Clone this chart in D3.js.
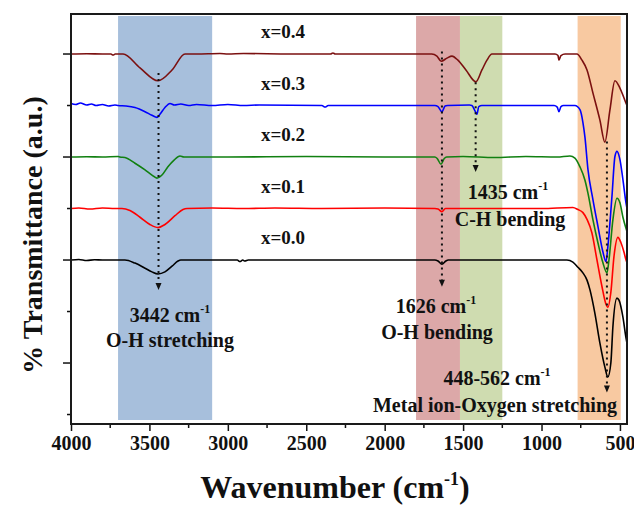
<!DOCTYPE html>
<html>
<head>
<meta charset="utf-8">
<script src="https://cdn.jsdelivr.net/npm/d3@7"></script>
<style>
  body { margin: 0; background: #fff; }
  svg text { font-family: "Liberation Serif", "Times New Roman", serif; font-weight: bold; fill: #111; }
</style>
</head>
<body>
<div id="chart"></div>
<script>
// spectra: [wavenumber, value relative to own baseline]
const x00 = [[4000,0],[3950,0.01],[3900,-0.01],[3850,0.005],[3800,0],[3700,0],[3656,0],[3592,-0.06],[3528,-0.16],[3484,-0.23],[3445,-0.27],[3401,-0.23],[3356,-0.12],[3318,-0.02],[3300,0],[3100,0],[2940,0],[2923,-0.03],[2905,0],[2891,-0.02],[2870,0],[2500,0],[2000,0],[1680,0],[1660,-0.02],[1635,-0.08],[1610,-0.02],[1595,0],[1300,0],[900,0],[838,0],[800,-0.04],[768,-0.14],[736,-0.25],[710,-0.39],[691,-0.58],[660,-1.03],[628,-1.61],[596,-2.08],[577,-2.27],[558,-2.0],[545,-1.30],[519,-0.74],[506,-0.78],[481,-1.11],[462,-1.50],[455,-1.62]];
const x01 = [[4000,0],[3950,0.01],[3880,-0.01],[3800,0.01],[3720,0],[3675,0],[3624,-0.04],[3560,-0.17],[3497,-0.31],[3445,-0.37],[3401,-0.31],[3337,-0.14],[3286,-0.02],[3260,0],[3100,0.01],[2900,0],[2700,0.01],[2400,0],[2000,0.01],[1680,0],[1660,-0.01],[1635,-0.06],[1612,0],[1300,0],[1000,0],[800,0.02],[768,-0.02],[736,-0.08],[710,-0.21],[679,-0.47],[647,-0.99],[615,-1.51],[589,-1.86],[577,-1.92],[558,-1.63],[538,-0.93],[513,-0.56],[494,-0.66],[474,-0.85],[462,-0.99],[455,-1.05]];
const x02 = [[4000,0],[3900,0.005],[3800,0],[3700,0.01],[3688,0],[3656,-0.01],[3592,-0.12],[3528,-0.25],[3484,-0.35],[3452,-0.41],[3420,-0.35],[3382,-0.19],[3343,-0.06],[3305,0.02],[3280,0],[3000,0],[2500,0.01],[2000,0],[1680,0],[1665,-0.03],[1641,-0.14],[1620,-0.03],[1605,0],[1500,0.01],[1300,-0.01],[1100,0.01],[900,0],[819,0.02],[787,-0.02],[755,-0.19],[723,-0.45],[704,-0.70],[672,-1.22],[640,-1.67],[608,-2.06],[583,-2.25],[570,-2.0],[545,-1.22],[519,-0.80],[500,-0.89],[481,-1.17],[462,-1.38],[455,-1.45]];
const x03 = [[4000,0.04],[3970,0.02],[3940,0.05],[3900,0.01],[3870,0.03],[3840,0],[3800,0.02],[3760,-0.01],[3720,0.01],[3700,0],[3650,-0.01],[3592,-0.04],[3528,-0.12],[3484,-0.19],[3452,-0.23],[3433,-0.17],[3401,-0.04],[3369,0.04],[3340,0.01],[3300,0.03],[3250,0],[3200,0.02],[3100,0],[3000,0.02],[2900,0],[2800,0.01],[2400,0],[2380,-0.03],[2360,0],[2000,0],[1680,0],[1660,-0.02],[1635,-0.12],[1615,-0.01],[1600,0],[1460,0.01],[1444,0],[1425,-0.1],[1412,-0.17],[1400,-0.02],[1380,0],[1100,0],[920,0],[900,-0.03],[889,-0.12],[876,-0.02],[860,0],[787,0],[755,-0.08],[736,-0.33],[723,-0.62],[704,-1.24],[672,-1.83],[640,-2.35],[608,-2.85],[589,-3.03],[577,-2.74],[551,-1.77],[532,-0.99],[519,-0.89],[500,-1.05],[481,-1.44],[462,-1.88],[455,-2.0]];
const x04 = [[4000,0],[3900,0.005],[3800,0],[3745,0],[3732,-0.02],[3718,0],[3668,0],[3560,-0.27],[3445,-0.52],[3356,-0.31],[3273,0],[3200,0],[3050,0.01],[3000,0],[2900,0.01],[2600,0],[2345,0],[2330,0.02],[2315,0],[2000,0],[1700,0],[1667,-0.04],[1640,-0.14],[1603,-0.08],[1571,-0.04],[1533,-0.12],[1482,-0.31],[1418,-0.54],[1380,-0.31],[1348,-0.12],[1316,0],[1200,0],[914,0],[895,-0.03],[889,-0.12],[876,-0.03],[850,0],[774,0],[742,-0.12],[710,-0.31],[672,-0.76],[628,-1.28],[596,-1.71],[564,-1.09],[532,-0.52],[500,-0.66],[462,-0.95],[455,-1.0]];

const sampleLabels = ["x=0.0", "x=0.1", "x=0.2", "x=0.3", "x=0.4"];
const sampleOffsets = [0, 1, 2, 3, 4];
const sampleColors = ["#000000", "#ff0000", "#118011", "#0000ff", "#7b1010"];
const spectra = [x00, x01, x02, x03, x04];

// shaded regions [from, to] in cm-1
const bandRanges = [[3700, 3100], [1800, 1520], [1520, 1250], [770, 495]];
const bandColors = ["#a7bfdc", "#dca8a8", "#cfdcb0", "#f8c9a1"];

// annotation arrows: position, top, bottom (a.u.)
const arrowPos = [3442, 1635, 1420, 583];
const arrowTop = [3.63, 4.05, 3.45, 2.30];
const arrowBottom = [-0.58, -0.52, 1.71, -2.57];

const xTicks = [4000, 3500, 3000, 2500, 2000, 1500, 1000, 500];

const width = 634, height = 511;
const margin = { left: 71, right: 7, top: 14, bottom: 87 };

const svg = d3.select("#chart").append("svg")
  .attr("width", width)
  .attr("height", height);

const x = d3.scaleLinear().domain([4000, 455]).range([margin.left, width - margin.right]);
const y = d3.scaleLinear().domain([-3.184, 4.777]).range([height - margin.bottom, margin.top]);

// bands
svg.append("g").selectAll("rect")
  .data(bandRanges)
  .join("rect")
  .attr("x", d => x(d[0]))
  .attr("width", d => x(d[1]) - x(d[0]))
  .attr("y", 16)
  .attr("height", 404)
  .attr("fill", (d, i) => bandColors[i]);

// spectra
const line = d3.line()
  .x(d => x(d[0]))
  .y(d => y(d[1]))
  .curve(d3.curveMonotoneX);

svg.append("g").selectAll("path")
  .data(spectra)
  .join("path")
  .attr("fill", "none")
  .attr("stroke", (d, i) => sampleColors[i])
  .attr("stroke-width", 1.6)
  .attr("d", (d, i) => line(d.map(p => [p[0], p[1] + sampleOffsets[i]])));

// sample labels
svg.append("g").selectAll("text")
  .data(sampleLabels)
  .join("text")
  .attr("x", 283)
  .attr("y", (d, i) => y(sampleOffsets[i]) - 16)
  .attr("text-anchor", "middle")
  .style("font-size", "19px")
  .text(d => d);

// dotted arrows
const arrows = svg.append("g");
arrowPos.forEach((w, i) => {
  arrows.append("line")
    .attr("x1", x(w)).attr("x2", x(w))
    .attr("y1", y(arrowTop[i])).attr("y2", y(arrowBottom[i]) - 5)
    .attr("stroke", "#111")
    .attr("stroke-width", 2)
    .attr("stroke-dasharray", "2,4");
  const ax = x(w), ay = y(arrowBottom[i]);
  arrows.append("path")
    .attr("d", `M${ax - 3},${ay - 7}L${ax + 3},${ay - 7}L${ax},${ay}Z`)
    .attr("fill", "#111");
});

// annotation texts
const notes = [
  { x: 170, y: 322, main: "3442 cm", sup: "-1" },
  { x: 170, y: 347, main: "O-H stretching" },
  { x: 436, y: 313, main: "1626 cm", sup: "-1" },
  { x: 437, y: 339, main: "O-H bending" },
  { x: 508, y: 199, main: "1435 cm", sup: "-1" },
  { x: 510, y: 226, main: "C-H bending" },
  { x: 497, y: 385, main: "448-562 cm", sup: "-1" },
  { x: 495, y: 412, main: "Metal ion-Oxygen stretching" }
];
notes.forEach(n => {
  const t = svg.append("text")
    .attr("x", n.x).attr("y", n.y)
    .attr("text-anchor", "middle")
    .style("font-size", "20px");
  t.append("tspan").text(n.main);
  if (n.sup) {
    t.append("tspan").attr("dy", -9).style("font-size", "12px").text(n.sup);
  }
});

// axes
const xAxis = d3.axisBottom(x).tickValues(xTicks).tickSize(7).tickPadding(5).tickFormat(d3.format("d"));
const gx = svg.append("g")
  .attr("transform", `translate(0,${height - margin.bottom})`)
  .call(xAxis);
gx.select(".domain").remove();
gx.selectAll("line").attr("stroke", "#111").attr("stroke-width", 1.5);
gx.selectAll("text")
  .style("font-size", "20px")
  .style("font-family", "'Liberation Serif', 'Times New Roman', serif")
  .style("font-weight", "bold")
  .attr("fill", "#111");

const xMinor = d3.range(3750, 455, -500);
svg.append("g").selectAll("line")
  .data(xMinor)
  .join("line")
  .attr("x1", d => x(d)).attr("x2", d => x(d))
  .attr("y1", height - margin.bottom).attr("y2", height - margin.bottom + 4)
  .attr("stroke", "#111").attr("stroke-width", 1.5);

const yTicks = d3.range(-3, 5);
svg.append("g").selectAll("line")
  .data(yTicks)
  .join("line")
  .attr("x1", d => margin.left - (d % 2 === 0 ? 8 : 4))
  .attr("x2", margin.left)
  .attr("y1", d => y(d)).attr("y2", d => y(d))
  .attr("stroke", "#111").attr("stroke-width", 1.5);

// frame
svg.append("rect")
  .attr("x", margin.left).attr("y", margin.top)
  .attr("width", width - margin.left - margin.right)
  .attr("height", height - margin.top - margin.bottom)
  .attr("fill", "none")
  .attr("stroke", "#1a1a1a")
  .attr("stroke-width", 2);

// axis titles
const xt = svg.append("text")
  .attr("x", 335).attr("y", 498)
  .attr("text-anchor", "middle")
  .style("font-size", "32px");
xt.append("tspan").text("Wavenumber (cm");
xt.append("tspan").attr("dy", -13).style("font-size", "18px").text("-1");
xt.append("tspan").attr("dy", 13).text(")");

svg.append("text")
  .attr("transform", "translate(42,235) rotate(-90)")
  .attr("text-anchor", "middle")
  .style("font-size", "28px")
  .text("% Transmittance (a.u.)");
</script>
</body>
</html>
